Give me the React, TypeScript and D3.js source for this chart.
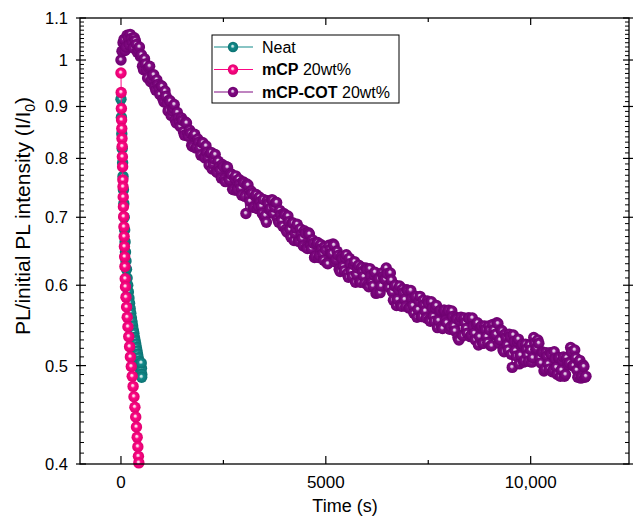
import React from 'react';
import * as d3 from 'd3';

// axis ticks
const xMajorTicks = [0, 5000, 10000];
const xTickLabels = ['0', '5000', '10,000'];
const xMinorTicks = [2500, 7500];
const yMajorTicks = [0.4, 0.5, 0.6, 0.7, 0.8, 0.9, 1, 1.1];
const yTickLabels = ['0.4', '0.5', '0.6', '0.7', '0.8', '0.9', '1', '1.1'];

// Neat film: [time (s), I/I0]
const neatData: [number, number][] = [
    [0, 0.915], [10, 0.878], [20, 0.846], [30, 0.818], [40, 0.792], [50, 0.768], [60, 0.745],
    [70, 0.722], [80, 0.700], [90, 0.680], [100, 0.662], [110, 0.647], [122, 0.634], [135, 0.622],
    [150, 0.610], [165, 0.600], [180, 0.591], [195, 0.583], [210, 0.576], [225, 0.569], [240, 0.563],
    [255, 0.557], [270, 0.552], [285, 0.547], [300, 0.542], [315, 0.538], [330, 0.533], [345, 0.529],
    [360, 0.525], [375, 0.521], [390, 0.517], [405, 0.513], [420, 0.509], [435, 0.505], [450, 0.502],
    [465, 0.498], [478, 0.495], [490, 0.492], [500, 0.497], [508, 0.490], [495, 0.503], [505, 0.487],
];

// mCP 20wt%
const mcpData: [number, number][] = [
    [0, 0.971], [5, 0.929], [10, 0.896], [15, 0.873], [20, 0.856], [25, 0.837], [30, 0.822],
    [35, 0.803], [40, 0.785], [46, 0.762], [50, 0.750], [55, 0.733], [60, 0.717], [66, 0.701],
    [72, 0.685], [78, 0.670], [84, 0.655], [90, 0.640], [96, 0.626], [103, 0.609], [110, 0.598],
    [122, 0.584], [137, 0.571], [152, 0.558], [170, 0.546], [190, 0.534], [210, 0.522], [230, 0.510],
    [252, 0.499], [275, 0.488], [296, 0.477], [318, 0.466], [340, 0.455], [360, 0.445], [378, 0.435],
    [396, 0.425], [412, 0.416], [426, 0.407], [436, 0.401],
];

// mCP-COT 20wt%, read every 25 s: values at 0, 50, 100 ... s
const cotStep = 50;
const cotValues = [
    1.000, 1.040, 1.022, 1.058, 1.035, 1.050, 1.028, 1.045, 1.018, 1.030,
    1.012, 0.978, 0.991, 0.960, 0.986, 0.958, 0.967, 0.934, 0.946, 0.925,
    0.942, 0.909, 0.921, 0.891, 0.911, 0.891, 0.904, 0.867, 0.877, 0.860,
    0.872, 0.843, 0.867, 0.841, 0.847, 0.822, 0.845, 0.821, 0.830, 0.806,
    0.829, 0.801, 0.811, 0.788, 0.811, 0.790, 0.807, 0.775, 0.785, 0.765,
    0.785, 0.759, 0.784, 0.762, 0.771, 0.745, 0.769, 0.746, 0.755, 0.736,
    0.757, 0.706, 0.753, 0.726, 0.739, 0.716, 0.737, 0.718, 0.725, 0.706,
    0.700, 0.692, 0.722, 0.714, 0.728, 0.716, 0.724, 0.692, 0.704, 0.686,
    0.704, 0.677, 0.693, 0.669, 0.691, 0.675, 0.689, 0.663, 0.673, 0.656,
    0.675, 0.652, 0.674, 0.652, 0.660, 0.641, 0.661, 0.642, 0.652, 0.635,
    0.650, 0.630, 0.650, 0.645, 0.657, 0.636, 0.642, 0.619, 0.637, 0.620,
    0.643, 0.611, 0.630, 0.612, 0.633, 0.615, 0.628, 0.604, 0.619, 0.603,
    0.622, 0.598, 0.613, 0.599, 0.618, 0.590, 0.609, 0.599, 0.612, 0.608,
    0.616, 0.597, 0.607, 0.580, 0.600, 0.581, 0.599, 0.572, 0.590, 0.572,
    0.593, 0.570, 0.582, 0.563, 0.585, 0.568, 0.585, 0.559, 0.574, 0.557,
    0.576, 0.553, 0.570, 0.553, 0.573, 0.554, 0.567, 0.544, 0.567, 0.551,
    0.567, 0.546, 0.559, 0.541, 0.556, 0.530, 0.558, 0.535, 0.551, 0.538,
    0.557, 0.536, 0.547, 0.530, 0.551, 0.534, 0.547, 0.526, 0.543, 0.527,
    0.542, 0.523, 0.542, 0.537, 0.550, 0.530, 0.541, 0.516, 0.533, 0.518,
    0.534, 0.498, 0.528, 0.511, 0.531, 0.512, 0.525, 0.506, 0.519, 0.505,
    0.518, 0.509, 0.526, 0.520, 0.526, 0.503, 0.515, 0.496, 0.511, 0.496,
    0.513, 0.495, 0.508, 0.490, 0.509, 0.495, 0.510, 0.490, 0.503, 0.503,
    0.516, 0.500, 0.509, 0.487, 0.506, 0.488, 0.499, 0.488,
];
// ... and the readings in between, at 25, 75, 125 ... s
const cotValuesMid = [
    1.020, 1.048, 1.030, 1.052, 1.060, 1.040, 1.052, 1.036, 1.024, 1.008,
    0.986, 1.003, 0.978, 0.983, 0.952, 0.966, 0.941, 0.956, 0.937, 0.944,
    0.915, 0.932, 0.907, 0.913, 0.882, 0.897, 0.873, 0.888, 0.869, 0.877,
    0.850, 0.869, 0.846, 0.853, 0.824, 0.842, 0.819, 0.836, 0.819, 0.829,
    0.803, 0.823, 0.801, 0.809, 0.781, 0.799, 0.777, 0.795, 0.779, 0.789,
    0.764, 0.785, 0.764, 0.773, 0.746, 0.765, 0.744, 0.763, 0.748, 0.759,
    0.734, 0.755, 0.734, 0.743, 0.716, 0.735, 0.714, 0.733, 0.718, 0.729,
    0.703, 0.727, 0.712, 0.728, 0.706, 0.724, 0.697, 0.711, 0.695, 0.706,
    0.681, 0.702, 0.681, 0.691, 0.664, 0.683, 0.663, 0.682, 0.667, 0.679,
    0.654, 0.676, 0.656, 0.665, 0.639, 0.659, 0.639, 0.658, 0.644, 0.655,
    0.631, 0.657, 0.645, 0.659, 0.633, 0.648, 0.622, 0.640, 0.626, 0.639,
    0.616, 0.638, 0.619, 0.629, 0.604, 0.624, 0.605, 0.625, 0.612, 0.624,
    0.601, 0.623, 0.604, 0.614, 0.589, 0.609, 0.590, 0.617, 0.609, 0.624,
    0.599, 0.617, 0.591, 0.599, 0.573, 0.594, 0.574, 0.595, 0.581, 0.594,
    0.570, 0.593, 0.573, 0.584, 0.558, 0.579, 0.559, 0.580, 0.566, 0.579,
    0.555, 0.578, 0.559, 0.570, 0.545, 0.566, 0.546, 0.567, 0.554, 0.566,
    0.543, 0.566, 0.547, 0.558, 0.533, 0.554, 0.536, 0.557, 0.544, 0.557,
    0.534, 0.557, 0.538, 0.549, 0.524, 0.545, 0.526, 0.547, 0.534, 0.547,
    0.523, 0.549, 0.536, 0.551, 0.526, 0.542, 0.518, 0.537, 0.524, 0.537,
    0.513, 0.536, 0.517, 0.528, 0.502, 0.523, 0.504, 0.525, 0.512, 0.524,
    0.504, 0.533, 0.519, 0.530, 0.509, 0.516, 0.494, 0.515, 0.502, 0.515,
    0.493, 0.516, 0.498, 0.509, 0.488, 0.506, 0.488, 0.509, 0.501, 0.521,
    0.500, 0.518, 0.495, 0.504, 0.486, 0.501, 0.487,
];
const cotData: [number, number][] = [];
cotValues.forEach((v, i) => {
    cotData.push([i * cotStep, v]);
    if (i < cotValuesMid.length) cotData.push([i * cotStep + cotStep / 2, cotValuesMid[i]]);
});

const series = [
    { id: 'neat', bold: 'Neat', rest: '', color: '#128a8a', dark: '#0b7272', light: '#cdeaea', data: neatData },
    { id: 'mcp', bold: 'mCP', rest: ' 20wt%', color: '#fc0884', dark: '#e0006f', light: '#ffd8ec', data: mcpData },
    { id: 'cot', bold: 'mCP-COT', rest: ' 20wt%', color: '#800a82', dark: '#6e0070', light: '#e4cce8', data: cotData },
];

const font = 'Liberation Sans, Arial, Helvetica, sans-serif';
const left = 80, right = 629, top = 18, bottom = 464;
const R = 5.7;

export default function App() {
    const x = d3.scaleLinear().domain([-1000, 12400]).range([left, right]);
    const y = d3.scaleLog().domain([0.4, 1.1]).range([bottom, top]);
    const yMinor = d3.range(41, 110).filter(i => i % 10 !== 0).map(i => i / 100);
    const line = d3.line<[number, number]>().x(d => x(d[0])).y(d => y(d[1]));

    return (
        <svg width={633} height={516} style={{ position: 'absolute', left: 0, top: 0, background: '#fff' }} fontFamily={font}>
            <defs>
                {series.map(s => (
                    <radialGradient key={s.id} id={`ball-${s.id}`} cx="50%" cy="50%" r="50%" fx="45%" fy="40%">
                        <stop offset="0%" stopColor={s.light} />
                        <stop offset="14%" stopColor={s.light} />
                        <stop offset="40%" stopColor={s.color} />
                        <stop offset="100%" stopColor={s.dark} />
                    </radialGradient>
                ))}
            </defs>

            {/* data */}
            {series.map(s => (
                <g key={s.id}>
                    <path d={line(s.data) ?? ''} fill="none" stroke={s.color} strokeWidth={1} />
                    {s.data.map((d, i) => (
                        <circle key={i} cx={x(d[0])} cy={y(d[1])} r={R} fill={`url(#ball-${s.id})`} />
                    ))}
                </g>
            ))}

            {/* frame */}
            <rect x={left} y={top} width={right - left} height={bottom - top} fill="none" stroke="#000" strokeWidth={1.3} />

            {/* x ticks */}
            {xMajorTicks.map((t, i) => (
                <g key={`xm${i}`}>
                    <line x1={x(t)} x2={x(t)} y1={bottom} y2={bottom - 8} stroke="#000" strokeWidth={1.2} />
                    <line x1={x(t)} x2={x(t)} y1={top} y2={top + 7} stroke="#000" strokeWidth={1.2} />
                    <text x={x(t)} y={488} textAnchor="middle" fontSize={17}>{xTickLabels[i]}</text>
                </g>
            ))}
            {xMinorTicks.map((t, i) => (
                <g key={`xn${i}`}>
                    <line x1={x(t)} x2={x(t)} y1={bottom} y2={bottom - 4} stroke="#000" strokeWidth={1.2} />
                    <line x1={x(t)} x2={x(t)} y1={top} y2={top + 4} stroke="#000" strokeWidth={1.2} />
                </g>
            ))}

            {/* y ticks */}
            {yMajorTicks.map((t, i) => (
                <g key={`ym${i}`}>
                    <line x1={left - 4} x2={left + 6} y1={y(t)} y2={y(t)} stroke="#000" strokeWidth={1.2} />
                    <line x1={right - 6} x2={right + 4} y1={y(t)} y2={y(t)} stroke="#000" strokeWidth={1.2} />
                    <text x={68} y={y(t)} dy="0.36em" textAnchor="end" fontSize={16.5}>{yTickLabels[i]}</text>
                </g>
            ))}
            {yMinor.map((t, i) => (
                <g key={`yn${i}`}>
                    <line x1={left} x2={left + 4} y1={y(t)} y2={y(t)} stroke="#000" strokeWidth={1} />
                    <line x1={right - 4} x2={right} y1={y(t)} y2={y(t)} stroke="#000" strokeWidth={1} />
                </g>
            ))}

            {/* axis titles */}
            <text x={345} y={512} textAnchor="middle" fontSize={18}>Time (s)</text>
            <text transform="translate(30, 216) rotate(-90)" textAnchor="middle" fontSize={21}>
                PL/initial PL intensity (I/I<tspan fontSize={14} dy={5}>0</tspan><tspan dy={-5}>)</tspan>
            </text>

            {/* legend */}
            <rect x={212} y={35} width={187} height={68} fill="#fff" stroke="#000" strokeWidth={1} />
            {series.map((s, i) => {
                const ly = 47 + i * 22.5;
                return (
                    <g key={`lg${s.id}`}>
                        <line x1={214} x2={253} y1={ly} y2={ly} stroke={s.color} strokeWidth={1.2} />
                        <circle cx={233} cy={ly} r={5.2} fill={`url(#ball-${s.id})`} />
                        <text x={262} y={ly} dy="0.36em" fontSize={16}>
                            <tspan fontWeight={s.rest ? 'bold' : 'normal'}>{s.bold}</tspan>{s.rest}
                        </text>
                    </g>
                );
            })}
        </svg>
    );
}
